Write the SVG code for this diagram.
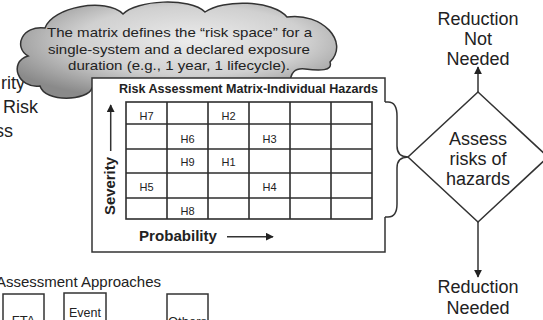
<svg xmlns="http://www.w3.org/2000/svg" width="543" height="320" viewBox="0 0 543 320">
  <style>
    .t { font-family: "Liberation Sans", Arial, sans-serif; fill: #222; }
    .b { font-weight: bold; }
    .ln { fill: none; stroke: #333; stroke-width: 1.5; }
    .grid { fill: none; stroke: #2e2e2e; stroke-width: 1.6; }
    .hz { font-size: 11px; text-anchor: middle; }
    .mid { text-anchor: middle; }
  </style>
  <defs>
    <radialGradient id="cloudFill" cx="0.55" cy="0.4" r="0.65">
      <stop offset="0" stop-color="#ececec"/>
      <stop offset="0.55" stop-color="#d0d0d0"/>
      <stop offset="1" stop-color="#8a8a8a"/>
    </radialGradient>
    <marker id="arrow" viewBox="0 0 10 10" refX="9" refY="5" markerWidth="8" markerHeight="8" markerUnits="userSpaceOnUse" orient="auto">
      <path d="M0,0 L10,5 L0,10 Z" fill="#222"/>
    </marker>
  </defs>

  <!-- partially visible side labels -->
  <g id="side-labels" class="t" font-size="18">
    <text x="25" y="89" text-anchor="end">rity</text>
    <text x="38" y="113" text-anchor="end">Risk</text>
    <text x="13" y="137" text-anchor="end">ss</text>
  </g>

  <!-- callout cloud -->
  <g id="cloud">
    <path d="M92,88 C88,101 45,103 40,86 C18,89 8,62 28,56 C13,47 22,25 45,28 C52,7 106,-3 123,14 C136,0 190,-3 205,12 C223,-1 273,0 287,17 C322,12 350,42 330,62 C333,71 320,71 305,69 C295,68 290,72 290,85 Z" fill="url(#cloudFill)" stroke="#333" stroke-width="1.5"/>
    <g class="t mid" font-size="13.5">
      <text x="179.5" y="37" textLength="265" lengthAdjust="spacingAndGlyphs">The matrix defines the “risk space” for a</text>
      <text x="179" y="54" textLength="262" lengthAdjust="spacingAndGlyphs">single-system and a declared exposure</text>
      <text x="179" y="70" textLength="222" lengthAdjust="spacingAndGlyphs">duration (e.g., 1 year, 1 lifecycle).</text>
    </g>
  </g>

  <!-- risk assessment matrix -->
  <g id="matrix">
    <rect x="92" y="78" width="293" height="174" fill="#fff"/>
    <path class="ln" d="M385,102 V78 H92 V252 H385 V217"/>
    <text class="t b" x="119" y="93" font-size="12.5" textLength="259" lengthAdjust="spacingAndGlyphs">Risk Assessment Matrix-Individual Hazards</text>
    <g class="grid">
      <rect x="126" y="102" width="246" height="117"/>
      <path d="M167,102 V219 M208,102 V219 M249,102 V219 M290,102 V219 M331,102 V219"/>
      <path d="M126,124 H372 M126,149 H372 M126,173 H372 M126,198 H372"/>
    </g>
    <g class="t hz">
      <text x="146.5" y="120">H7</text>
      <text x="228.5" y="120">H2</text>
      <text x="187.5" y="143">H6</text>
      <text x="269.5" y="143">H3</text>
      <text x="187.5" y="166">H9</text>
      <text x="228.5" y="166">H1</text>
      <text x="146.5" y="191">H5</text>
      <text x="269.5" y="191">H4</text>
      <text x="187.5" y="215">H8</text>
    </g>
    <text class="t b mid" font-size="14" transform="translate(115,186) rotate(-90)" textLength="58" lengthAdjust="spacingAndGlyphs">Severity</text>
    <line class="ln" x1="110.7" y1="151" x2="110.7" y2="105" marker-end="url(#arrow)"/>
    <text class="t b" x="139" y="241" font-size="14" textLength="78" lengthAdjust="spacingAndGlyphs">Probability</text>
    <line class="ln" x1="227" y1="236.7" x2="273" y2="236.7" marker-end="url(#arrow)"/>
  </g>

  <!-- decision diamond -->
  <g id="assess">
    <path d="M478,92 L548,157 L478,222 L408,157 Z" fill="#fff" stroke="#333" stroke-width="1.5"/>
    <g class="t mid" font-size="18">
      <text x="478" y="145">Assess</text>
      <text x="478" y="165">risks of</text>
      <text x="478" y="185">hazards</text>
    </g>
  </g>

  <g id="not-needed" class="t mid" font-size="18">
    <text x="478" y="25">Reduction</text>
    <text x="478" y="45">Not</text>
    <text x="478" y="65">Needed</text>
  </g>

  <g id="needed" class="t mid" font-size="18">
    <text x="478" y="293">Reduction</text>
    <text x="478" y="314">Needed</text>
  </g>

  <!-- assessment approaches -->
  <g id="approaches">
    <text class="t" x="161" y="287" font-size="15" text-anchor="end">Assessment Approaches</text>
  </g>
  <g id="fta">
    <rect class="ln" x="3" y="294" width="41" height="40"/>
    <text class="t mid" x="23.5" y="325" font-size="13">FTA</text>
  </g>
  <g id="event">
    <rect class="ln" x="64" y="293" width="42" height="40"/>
    <text class="t mid" x="85" y="317" font-size="12.5">Event</text>
  </g>
  <g id="others">
    <rect class="ln" x="167" y="294" width="41" height="40"/>
    <text class="t mid" x="187.5" y="326" font-size="13">Others</text>
  </g>

  <!-- connectors -->
  <g id="connectors">
    <path class="ln" d="M385,102 H388 Q397,102 397,116 V146 Q397,157 408,157 Q397,157 397,168 V204 Q397,217 388,217 H385"/>
    <line class="ln" x1="478" y1="92" x2="478" y2="67" marker-end="url(#arrow)"/>
    <line class="ln" x1="478" y1="222" x2="478" y2="277" marker-end="url(#arrow)"/>
  </g>
</svg>
